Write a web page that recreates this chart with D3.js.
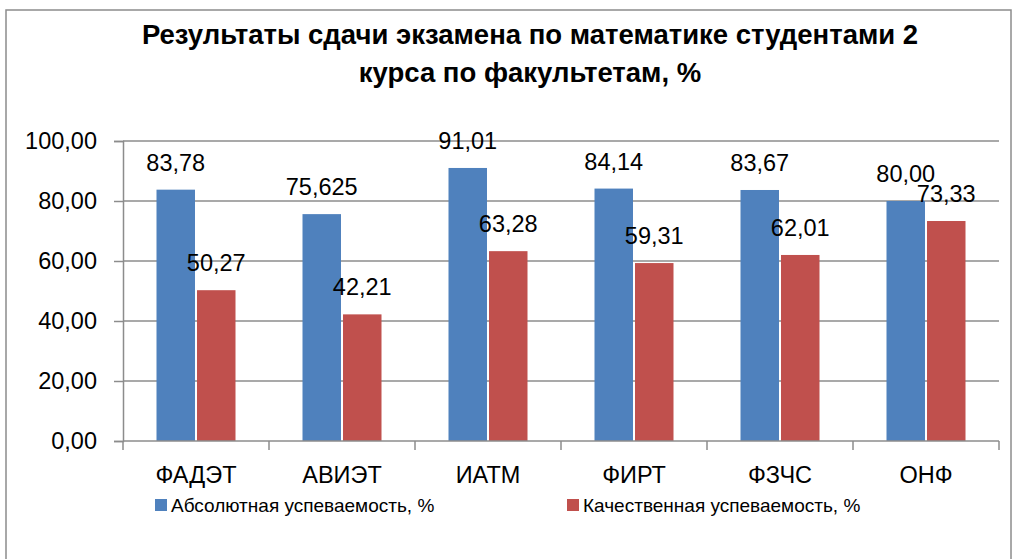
<!DOCTYPE html>
<html>
<head>
<meta charset="utf-8">
<script src="https://cdn.jsdelivr.net/npm/d3@7"></script>
<style>
  html, body { margin: 0; padding: 0; background: #fff; }
  svg { display: block; font-family: "Liberation Sans", Arial, sans-serif; }
</style>
</head>
<body>
<svg id="chart" width="1016" height="559"></svg>
<script>
const titleLines = ["Результаты сдачи экзамена по математике студентами 2", "курса по факультетам, %"];
const categories = ["ФАДЭТ", "АВИЭТ", "ИАТМ", "ФИРТ", "ФЗЧС", "ОНФ"];
const seriesNames = ["Абсолютная успеваемость, %", "Качественная успеваемость, %"];
const absValues = [83.78, 75.625, 91.01, 84.14, 83.67, 80.00];
const qualValues = [50.27, 42.21, 63.28, 59.31, 62.01, 73.33];
const absLabels = ["83,78", "75,625", "91,01", "84,14", "83,67", "80,00"];
const qualLabels = ["50,27", "42,21", "63,28", "59,31", "62,01", "73,33"];
const yTicks = [0, 20, 40, 60, 80, 100];
const colors = ["#4F81BD", "#C0504D"];

const svg = d3.select("#chart");
const plot = { left: 123, right: 999, top: 141, bottom: 441 };
const FS = 23.5;

// outer border
svg.append("rect").attr("x", 6).attr("y", 10).attr("width", 1005).attr("height", 560)
  .attr("fill", "#fff").attr("stroke", "#8c8c8c").attr("stroke-width", 1.5);

// title
svg.append("g").selectAll("text").data(titleLines).join("text")
  .attr("x", 530).attr("y", (d, i) => 44 + i * 37.5)
  .attr("text-anchor", "middle").attr("font-weight", "bold").attr("font-size", 27.5)
  .attr("fill", "#000").text(d => d);

const x0 = d3.scaleBand().domain(categories).range([plot.left, plot.right]).paddingInner(0).paddingOuter(0);
const y = d3.scaleLinear().domain([0, 100]).range([plot.bottom, plot.top]);
const groupPad = 33.5;
const x1 = d3.scaleBand().domain([0, 1])
  .range([groupPad, x0.bandwidth() - groupPad]).paddingInner(0.05);

// gridlines
svg.append("g").selectAll("line").data(yTicks.filter(t => t > 0)).join("line")
  .attr("x1", plot.left).attr("x2", plot.right)
  .attr("y1", d => y(d)).attr("y2", d => y(d))
  .attr("stroke", "#8c8c8c").attr("stroke-width", 1.5);

// y axis
const yAxis = svg.append("g").attr("transform", `translate(${plot.left},0)`)
  .call(d3.axisLeft(y).tickValues(yTicks).tickSize(9).tickPadding(17)
    .tickFormat(d => d3.format(".2f")(d).replace(".", ",")));
yAxis.select(".domain").attr("stroke", "#8c8c8c").attr("stroke-width", 1.5);
yAxis.selectAll(".tick line").attr("stroke", "#8c8c8c").attr("stroke-width", 1.5);
yAxis.selectAll(".tick text").attr("font-size", FS).attr("fill", "#000")
  .attr("font-family", "Liberation Sans, Arial, sans-serif");

// bars
const data = categories.map((c, i) => ({ c, vals: [absValues[i], qualValues[i]], labels: [absLabels[i], qualLabels[i]] }));
const groups = svg.append("g").selectAll("g").data(data).join("g")
  .attr("transform", d => `translate(${x0(d.c)},0)`);
groups.selectAll("rect").data(d => d.vals.map((v, k) => ({ v, k }))).join("rect")
  .attr("x", d => x1(d.k)).attr("width", x1.bandwidth())
  .attr("y", d => y(d.v)).attr("height", d => y(0) - y(d.v))
  .attr("fill", d => colors[d.k]);
groups.selectAll("text").data(d => d.labels.map((t, k) => ({ t, k, v: d.vals[k] }))).join("text")
  .attr("x", d => x1(d.k) + x1.bandwidth() / 2)
  .attr("y", d => y(d.v) - 19)
  .attr("text-anchor", "middle").attr("font-size", FS).attr("fill", "#000")
  .text(d => d.t);

// x axis
const xAxis = svg.append("g").attr("transform", `translate(0,${plot.bottom})`)
  .call(d3.axisBottom(x0).tickSize(0).tickPadding(0));
xAxis.select(".domain").remove();
xAxis.selectAll(".tick text").attr("font-size", FS).attr("fill", "#000")
  .attr("font-family", "Liberation Sans, Arial, sans-serif").attr("dy", 0).attr("y", 42);
svg.append("line").attr("x1", plot.left).attr("x2", plot.right).attr("y1", plot.bottom).attr("y2", plot.bottom)
  .attr("stroke", "#8c8c8c").attr("stroke-width", 1.5);
svg.append("g").selectAll("line").data(d3.range(categories.length + 1)).join("line")
  .attr("x1", i => plot.left + i * x0.step()).attr("x2", i => plot.left + i * x0.step())
  .attr("y1", plot.bottom).attr("y2", plot.bottom + 9)
  .attr("stroke", "#8c8c8c").attr("stroke-width", 1.5);

// legend
const legendX = [155, 567];
const leg = svg.append("g").selectAll("g").data(seriesNames).join("g")
  .attr("transform", (d, i) => `translate(${legendX[i]},499)`);
leg.append("rect").attr("width", 12).attr("height", 12).attr("fill", (d, i) => colors[i]);
leg.append("text").attr("x", 16).attr("y", 13).attr("font-size", 19).attr("fill", "#000").text(d => d);
</script>
</body>
</html>
